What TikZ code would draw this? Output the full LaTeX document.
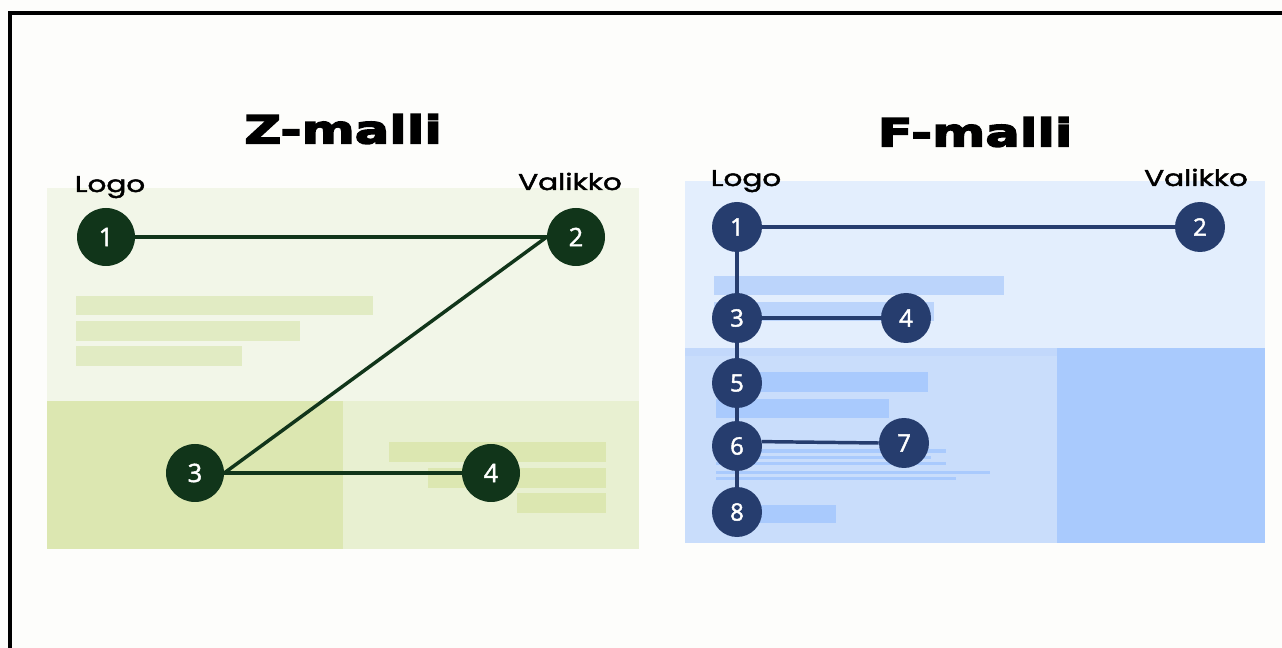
\documentclass[tikz,border=0pt]{standalone}
\usepackage{fontspec}
\setmainfont{Open Sans}
\newfontfamily\titlefont{DejaVu Sans Bold}[FakeStretch=1.32,FakeBold=4]
\newfontfamily\labfont{Poppins}[FakeStretch=1.3,FakeBold=2]
\newfontfamily\numfont{Open Sans}[FakeBold=1.8]
\definecolor{pagebg}{HTML}{FDFDFB}
\definecolor{zbgtop}{HTML}{F2F6E8}
\definecolor{zbar}{HTML}{E1EBC3}
\definecolor{zbgleft}{HTML}{DCE7B1}
\definecolor{zbgright}{HTML}{E8F0D1}
\definecolor{zdot}{HTML}{11351A}
\definecolor{fbgtop}{HTML}{E3EEFD}
\definecolor{fbar}{HTML}{BBD4FB}
\definecolor{fbgleft}{HTML}{C9DDFB}
\definecolor{fstripe}{HTML}{C2D8FB}
\definecolor{fbgright}{HTML}{A9CAFD}
\definecolor{fdot}{HTML}{263D6E}
\begin{document}
\begin{tikzpicture}[x=0.75pt,y=-0.75pt,
  zstep/.style={circle,fill=zdot,minimum size=58*0.75pt,inner sep=0pt,text=white,font=\numfont\fontsize{19}{19}\selectfont},
  fstep/.style={circle,fill=fdot,minimum size=50*0.75pt,inner sep=0pt,text=white,font=\numfont\fontsize{18}{18}\selectfont},
  zline/.style={draw=zdot,line width=2.6pt},
  fline/.style={draw=fdot,line width=2.6pt},
  title/.style={font=\titlefont\fontsize{29}{29}\selectfont,inner sep=0pt},
  lab/.style={font=\labfont\fontsize{17}{17}\selectfont,inner sep=0pt,anchor=base}]
\useasboundingbox (0,0) rectangle (1282,648);
\fill[pagebg] (0,0) rectangle (1282,648);
\draw[line width=2.5pt,black] (10,660) -- (10,13) -- (1295,13);

% ---- Z pattern ----
\fill[zbgtop] (47,188) rectangle (639,401);
\fill[zbgleft] (47,401) rectangle (343,549);
\fill[zbgright] (343,401) rectangle (639,549);
\fill[zbar] (76,296) rectangle (373,315);
\fill[zbar] (76,321) rectangle (300,341);
\fill[zbar] (76,346) rectangle (242,366);
\fill[zbgleft] (389,442) rectangle (606,462);
\fill[zbgleft] (428,468) rectangle (606,488);
\fill[zbgleft] (517,493) rectangle (606,513);

\node[title] (ztitle) at (343,129) {Z-malli};
\node[lab] (zlogo) at (110,192) {Logo};
\node[lab] (zmenu) at (570,190) {Valikko};

\node[zstep] (z1) at (106,237) {1};
\node[zstep] (z2) at (576,237) {2};
\node[zstep] (z3) at (195,473) {3};
\node[zstep] (z4) at (491,473) {4};
\draw[zline] (z1) -- (z2.west);
\draw[zline] (z2.west) -- (z3.east);
\draw[zline] (z3.east) -- (z4.west);

% ---- F pattern ----
\fill[fbgtop] (685,181) rectangle (1265,348);
\fill[fbgleft] (685,348) rectangle (1057,543);
\fill[fstripe] (685,348) rectangle (1057,356);
\fill[fbgright] (1057,348) rectangle (1265,543);
\fill[fbar] (714,276) rectangle (1004,295);
\fill[fbar] (714,302) rectangle (934,321);
\fill[fbgright] (716,372) rectangle (928,392);
\fill[fbgright] (716,399) rectangle (889,418);
\fill[fbgright] (716,449) rectangle (946,453);
\fill[fbgright] (716,456) rectangle (931,459);
\fill[fbgright] (716,462) rectangle (946,465);
\fill[fbgright] (716,471) rectangle (990,474);
\fill[fbgright] (716,477) rectangle (956,480);
\fill[fbgright] (716,505) rectangle (836,523);

\node[title] (ftitle) at (975,132) {F-malli};
\node[lab] (flogo) at (746,186) {Logo};
\node[lab] (fmenu) at (1196,186) {Valikko};

\node[fstep] (f1) at (737,227) {1};
\node[fstep] (f2) at (1200,227) {2};
\node[fstep] (f3) at (737,318) {3};
\node[fstep] (f4) at (906,318) {4};
\node[fstep] (f5) at (737,383) {5};
\node[fstep] (f6) at (737,446) {6};
\node[fstep] (f7) at (904,443) {7};
\node[fstep] (f8) at (737,512) {8};
\draw[fline] (f1) -- (f2);
\draw[fline] (f1) -- (f3);
\draw[fline] (f3) -- (f4);
\draw[fline] (f3) -- (f5);
\draw[fline] (f5) -- (f6);
\draw[fline] (f6.10) -- (f7.west);
\draw[fline] (f6) -- (f8);
\end{tikzpicture}
\end{document}
